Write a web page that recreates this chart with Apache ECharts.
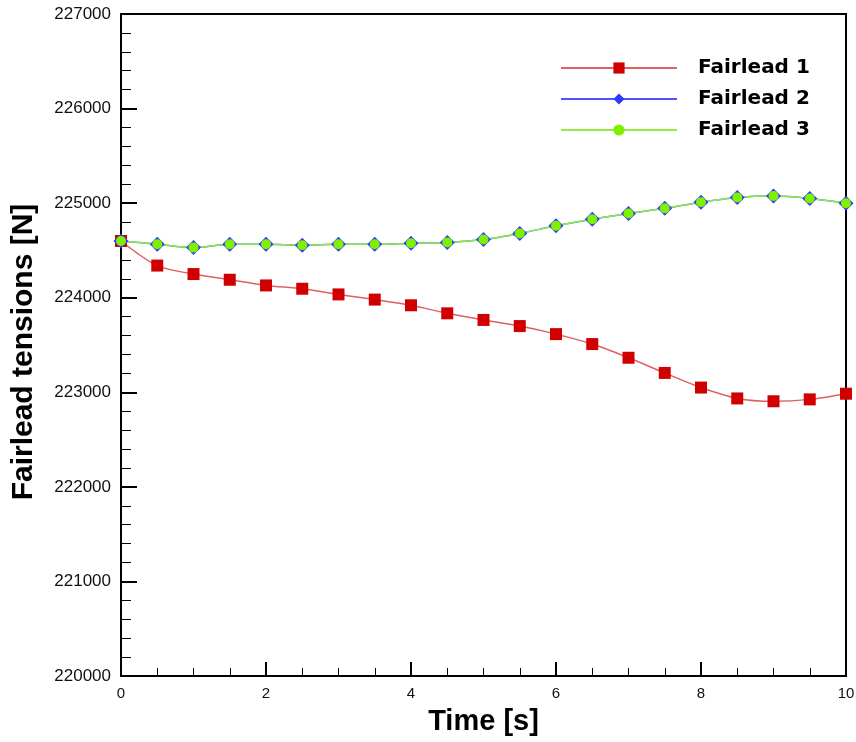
<!DOCTYPE html>
<html>
<head>
<meta charset="utf-8">
<script src="https://cdn.jsdelivr.net/npm/echarts@6/dist/echarts.min.js"></script>
<style>
    html, body { margin: 0; padding: 0; background: #ffffff; }
    #chart { width: 856px; height: 742px; }
</style>
</head>
<body>
<div id="chart"></div>
<script>
// time in seconds
const timeData = [0, 0.5, 1, 1.5, 2, 2.5, 3, 3.5, 4, 4.5, 5, 5.5, 6, 6.5, 7, 7.5, 8, 8.5, 9, 9.5, 10];

// fairlead tensions [N]
const fairlead1 = [224600, 224340, 224250, 224190, 224130, 224095, 224035, 223980, 223920, 223835,
    223765, 223700, 223615, 223510, 223365, 223205, 223050, 222935, 222905, 222925, 222985];
const fairlead2 = [224600, 224565, 224530, 224565, 224565, 224555, 224565, 224565, 224575, 224585,
    224615, 224680, 224760, 224830, 224890, 224945, 225010, 225060, 225075, 225050, 225000];
const fairlead3 = [224600, 224565, 224530, 224565, 224565, 224555, 224565, 224565, 224575, 224585,
    224615, 224680, 224760, 224830, 224890, 224945, 225010, 225060, 225075, 225050, 225000];

const seriesNames = ["Fairlead 1", "Fairlead 2", "Fairlead 3"];

const FONT = "'Liberation Sans', Arial, sans-serif";

const chart = echarts.init(document.getElementById("chart"), null, { renderer: "canvas" });

function pairs(values) {
    return values.map((v, i) => [timeData[i], v]);
}

const option = {
    animation: false,
    backgroundColor: "#ffffff",
    grid: {
        left: 121,
        right: 10,
        top: 14,
        bottom: 66,
        containLabel: false,
        outerBoundsMode: "none",
        show: true,
        borderColor: "#000",
        borderWidth: 2,
    },
    legend: {
        orient: "vertical",
        left: 555,
        top: 53,
        itemWidth: 116,
        itemHeight: 14,
        itemGap: 11,
        textStyle: {
            fontFamily: "'DejaVu Sans', sans-serif",
            fontSize: 20,
            fontWeight: "bold",
            color: "#000",
            padding: [0, 0, 0, 16],
        },
        data: seriesNames,
    },
    xAxis: {
        type: "value",
        min: 0,
        max: 10,
        interval: 2,
        name: "Time [s]",
        nameLocation: "middle",
        nameGap: 31,
        nameTextStyle: { fontFamily: FONT, fontSize: 29, fontWeight: "bold", color: "#000" },
        axisLine: { lineStyle: { color: "#000", width: 2 } },
        axisTick: { inside: true, length: 14, lineStyle: { color: "#000", width: 2 } },
        minorTick: { show: true, splitNumber: 4, length: 8, lineStyle: { color: "#000", width: 1 } },
        axisLabel: { fontFamily: FONT, fontSize: 15, color: "#111", margin: 10 },
        splitLine: { show: false },
    },
    yAxis: {
        type: "value",
        min: 220000,
        max: 227000,
        interval: 1000,
        name: "Fairlead tensions [N]",
        nameLocation: "middle",
        nameGap: 82,
        nameTextStyle: {
            fontFamily: FONT,
            fontSize: 30,
            fontWeight: "bold",
            color: "#000",
            padding: [0, 14, 0, 0],
        },
        axisLine: { lineStyle: { color: "#000", width: 2 } },
        axisTick: { inside: true, length: 16, lineStyle: { color: "#000", width: 2 } },
        minorTick: { show: true, splitNumber: 5, length: 10, lineStyle: { color: "#000", width: 1 } },
        axisLabel: {
            fontFamily: FONT,
            fontSize: 17,
            color: "#111",
            margin: 10,
            formatter: (v) => String(v),
        },
        splitLine: { show: false },
    },
    series: [
        {
            name: seriesNames[0],
            type: "line",
            smooth: 0.3,
            symbol: "rect",
            symbolSize: 12,
            data: pairs(fairlead1),
            lineStyle: { color: "#e06060", width: 1.5 },
            itemStyle: { color: "#d00000" },
        },
        {
            name: seriesNames[1],
            type: "line",
            smooth: 0.3,
            symbol: "diamond",
            symbolSize: 15,
            data: pairs(fairlead2),
            lineStyle: { color: "#4a55ff", width: 1.5 },
            itemStyle: { color: "#2a3cff" },
        },
        {
            name: seriesNames[2],
            type: "line",
            smooth: 0.3,
            symbol: "circle",
            symbolSize: 10,
            data: pairs(fairlead3),
            lineStyle: { color: "#90ee40", width: 1.5 },
            itemStyle: { color: "#7ef000" },
        },
    ],
};

chart.setOption(option);
</script>
</body>
</html>
